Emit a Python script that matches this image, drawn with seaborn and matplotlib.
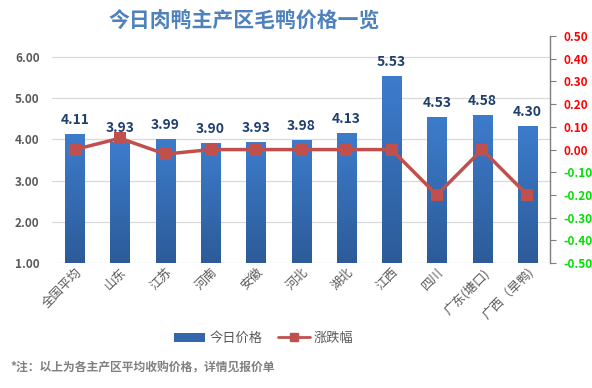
import matplotlib
matplotlib.use("Agg")
import matplotlib.pyplot as plt
import seaborn as sns
import numpy as np
import pandas as pd
from matplotlib.patches import Patch
from matplotlib.lines import Line2D
from matplotlib.colors import LinearSegmentedColormap

regions = ["全国平均", "山东", "江苏", "河南", "安徽", "河北", "湖北", "江西", "四川", "广东(塘口)", "广西（旱鸭)"]
prices = [4.11, 3.93, 3.99, 3.90, 3.93, 3.98, 4.13, 5.53, 4.53, 4.58, 4.30]
changes = [0.00, 0.05, -0.02, 0.00, 0.00, 0.00, 0.00, 0.00, -0.20, 0.00, -0.20]
left_ticks = [1, 2, 3, 4, 5, 6]
right_ticks = [-0.5, -0.4, -0.3, -0.2, -0.1, 0.0, 0.1, 0.2, 0.3, 0.4, 0.5]

sns.set_style("white")
plt.rcParams["font.family"] = ["Noto Sans CJK SC", "DejaVu Sans"]

df = pd.DataFrame({"region": regions, "price": prices, "change": changes})

fig = plt.figure(figsize=(5.92, 3.88), dpi=100)
ax = fig.add_axes([0.088, 0.322, 0.841, 0.585])

sns.barplot(data=df, x="region", y="price", color="#3a72c0", width=0.42,
            saturation=1, ax=ax, zorder=2)
ymin, ymax = 1, 6.5
ax.set_yticks(left_ticks)
ax.set_yticklabels([f"{t:.2f}" for t in left_ticks], fontsize=8.5,
                   fontweight="bold", color="#595959")
ax.yaxis.grid(True, color="#d9d9d9", linewidth=0.9, zorder=0)
ax.set_axisbelow(True)
for s in ["top", "right", "left", "bottom"]:
    ax.spines[s].set_visible(False)
ax.tick_params(axis="y", length=0, pad=9)
ax.tick_params(axis="x", length=0, pad=2)
ax.set_xlabel("")
ax.set_ylabel("")
ax.set_xticks(range(len(regions)))
ax.set_xticklabels(regions, rotation=45, ha="right", rotation_mode="anchor",
                   fontsize=9, color="#595959")

# gradient fill for bars (dark at bottom, lighter at top)
cmap = LinearSegmentedColormap.from_list("bar", ["#2c5b98", "#3d7ccc"])
grad = np.linspace(0, 1, 256).reshape(-1, 1)
for p in ax.patches:
    x0, w, h = p.get_x(), p.get_width(), p.get_height()
    im = ax.imshow(grad, cmap=cmap, aspect="auto", origin="lower",
                   extent=[x0, x0 + w, ymin, h], zorder=2)
    p.set_facecolor("none")
    p.set_edgecolor("none")
ax.set_xlim(-0.5, len(regions) - 0.5)
ax.set_ylim(ymin, ymax)

for i, v in enumerate(prices):
    ax.text(i, v + 0.18, f"{v:.2f}", ha="center", va="bottom", fontsize=10,
            fontweight="bold", color="#1f3f6e", zorder=5)

ax2 = ax.twinx()
sns.lineplot(x=np.arange(len(regions)), y=changes, ax=ax2, color="#c0504d",
             linewidth=2.5, marker="s", markersize=8, markeredgewidth=0, zorder=4)
ax2.set_ylim(-0.5, 0.5)
ax2.set_yticks(right_ticks)
ax2.set_yticklabels([f"{t:.2f}" for t in right_ticks], fontsize=8.5, fontweight="bold")
for lab, t in zip(ax2.get_yticklabels(), right_ticks):
    lab.set_color("#ff0000" if t >= 0 else "#00e000")
for s in ["top", "left", "bottom"]:
    ax2.spines[s].set_visible(False)
ax2.spines["right"].set_color("#7f7f7f")
ax2.spines["right"].set_linewidth(1)
ax2.tick_params(axis="y", direction="out", length=4, color="#7f7f7f", pad=6)
ax2.set_ylabel("")

fig.text(0.412, 0.945, "今日肉鸭主产区毛鸭价格一览", ha="center", va="center",
         fontsize=15, fontweight="bold", color="#4f81bd")

handles = [Patch(facecolor="#3366aa", edgecolor="none"),
           Line2D([0], [0], color="#c0504d", linewidth=2, marker="s", markersize=6)]
fig.legend(handles, ["今日价格", "涨跌幅"], loc="center", bbox_to_anchor=(0.445, 0.128),
           ncol=2, frameon=False, fontsize=9.5, handlelength=2.4, columnspacing=1.2,
           handletextpad=0.3, labelcolor="#595959")

fig.text(0.018, 0.052, "*注：以上为各主产区平均收购价格，详情见报价单", ha="left", va="center",
         fontsize=8.5, fontweight="bold", color="#808080")

fig.savefig("out.png", dpi=100)
